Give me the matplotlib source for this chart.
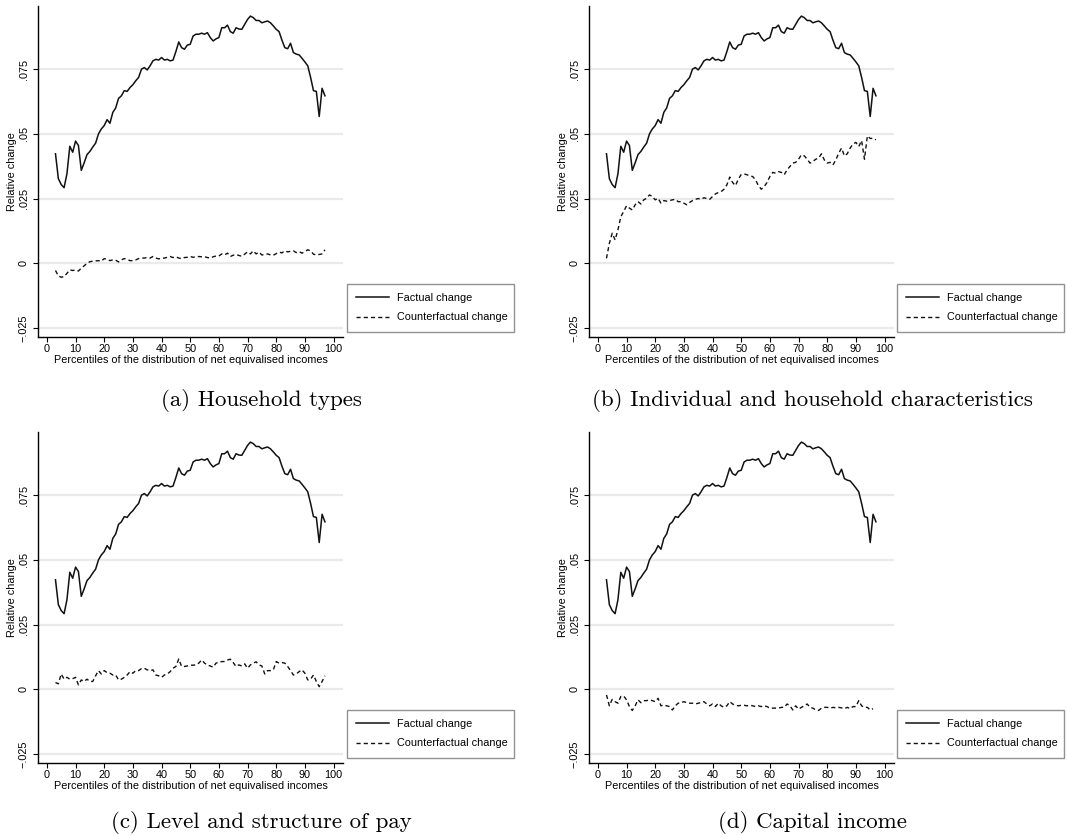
import matplotlib
matplotlib.use("Agg")
import matplotlib.pyplot as plt
import numpy as np

# percentiles of the distribution of net equivalised incomes
pct = list(range(3, 98))

factual = [
    0.0423, 0.0327, 0.0304, 0.0292, 0.0346, 0.0452, 0.0429, 0.0472, 0.0455, 0.0359,
    0.0388, 0.0420, 0.0432, 0.0449, 0.0464, 0.0500, 0.0519, 0.0532, 0.0555, 0.0541,
    0.0583, 0.0600, 0.0637, 0.0647, 0.0667, 0.0664, 0.0679, 0.0690, 0.0705, 0.0718,
    0.0750, 0.0756, 0.0747, 0.0763, 0.0782, 0.0788, 0.0785, 0.0795, 0.0785, 0.0788,
    0.0782, 0.0785, 0.0818, 0.0855, 0.0833, 0.0827, 0.0843, 0.0846, 0.0878, 0.0885,
    0.0885, 0.0889, 0.0885, 0.0891, 0.0872, 0.0859, 0.0867, 0.0872, 0.0910, 0.0910,
    0.0920, 0.0895, 0.0889, 0.0910, 0.0905, 0.0904, 0.0923, 0.0942, 0.0955, 0.0949,
    0.0938, 0.0938, 0.0929, 0.0933, 0.0936, 0.0929, 0.0917, 0.0904, 0.0895, 0.0862,
    0.0833, 0.0829, 0.0850, 0.0814, 0.0808, 0.0805, 0.0792, 0.0778, 0.0763, 0.0718,
    0.0667, 0.0664, 0.0567, 0.0676, 0.0647,
]

cf_household_types = [
    -0.0028, -0.0049, -0.0054, -0.0052, -0.0039, -0.0026, -0.0028, -0.0026, -0.0030, -0.0019,
    -0.0010, 0.0000, 0.0006, 0.0008, 0.0009, 0.0010, 0.0008, 0.0018, 0.0015, 0.0010,
    0.0013, 0.0012, 0.0005, 0.0013, 0.0018, 0.0015, 0.0010, 0.0010, 0.0013, 0.0018,
    0.0020, 0.0020, 0.0022, 0.0020, 0.0026, 0.0020, 0.0017, 0.0019, 0.0020, 0.0023,
    0.0026, 0.0022, 0.0025, 0.0020, 0.0018, 0.0022, 0.0023, 0.0026, 0.0023, 0.0025,
    0.0026, 0.0025, 0.0025, 0.0022, 0.0020, 0.0025, 0.0028, 0.0028, 0.0036, 0.0032,
    0.0039, 0.0026, 0.0031, 0.0034, 0.0030, 0.0027, 0.0035, 0.0044, 0.0036, 0.0048,
    0.0036, 0.0043, 0.0032, 0.0034, 0.0036, 0.0032, 0.0031, 0.0037, 0.0043, 0.0040,
    0.0048, 0.0044, 0.0046, 0.0048, 0.0041, 0.0045, 0.0039, 0.0045, 0.0052, 0.0048,
    0.0035, 0.0032, 0.0034, 0.0036, 0.0052,
]

cf_characteristics = [
    0.0019, 0.0077, 0.0116, 0.0090, 0.0129, 0.0180, 0.0200, 0.0222, 0.0213, 0.0206,
    0.0226, 0.0238, 0.0229, 0.0245, 0.0251, 0.0264, 0.0258, 0.0245, 0.0251, 0.0232,
    0.0242, 0.0240, 0.0242, 0.0245, 0.0247, 0.0238, 0.0238, 0.0232, 0.0226, 0.0235,
    0.0242, 0.0247, 0.0250, 0.0247, 0.0253, 0.0250, 0.0247, 0.0258, 0.0268, 0.0273,
    0.0277, 0.0286, 0.0303, 0.0333, 0.0312, 0.0300, 0.0325, 0.0343, 0.0345, 0.0342,
    0.0338, 0.0335, 0.0322, 0.0300, 0.0286, 0.0296, 0.0312, 0.0335, 0.0351, 0.0348,
    0.0354, 0.0351, 0.0342, 0.0361, 0.0374, 0.0387, 0.0390, 0.0402, 0.0419, 0.0415,
    0.0402, 0.0387, 0.0393, 0.0402, 0.0406, 0.0423, 0.0399, 0.0387, 0.0390, 0.0380,
    0.0399, 0.0425, 0.0445, 0.0415, 0.0423, 0.0445, 0.0461, 0.0467, 0.0451, 0.0474,
    0.0402, 0.0492, 0.0482, 0.0483, 0.0477,
]

cf_pay = [
    0.0026, 0.0021, 0.0059, 0.0039, 0.0046, 0.0039, 0.0041, 0.0046, 0.0017, 0.0036,
    0.0030, 0.0039, 0.0030, 0.0030, 0.0052, 0.0072, 0.0059, 0.0072, 0.0064, 0.0062,
    0.0055, 0.0055, 0.0036, 0.0039, 0.0046, 0.0055, 0.0068, 0.0062, 0.0072, 0.0072,
    0.0080, 0.0081, 0.0075, 0.0072, 0.0075, 0.0055, 0.0052, 0.0046, 0.0055, 0.0059,
    0.0068, 0.0081, 0.0088, 0.0117, 0.0088, 0.0088, 0.0090, 0.0093, 0.0093, 0.0094,
    0.0101, 0.0113, 0.0101, 0.0093, 0.0090, 0.0085, 0.0101, 0.0104, 0.0107, 0.0107,
    0.0113, 0.0116, 0.0103, 0.0088, 0.0094, 0.0090, 0.0098, 0.0081, 0.0094, 0.0101,
    0.0106, 0.0094, 0.0090, 0.0059, 0.0072, 0.0072, 0.0075, 0.0107, 0.0101, 0.0103,
    0.0101, 0.0088, 0.0072, 0.0055, 0.0059, 0.0068, 0.0075, 0.0062, 0.0036, 0.0039,
    0.0055, 0.0030, 0.0010, 0.0030, 0.0052,
]

cf_capital = [
    -0.0022, -0.0064, -0.0039, -0.0048, -0.0054, -0.0028, -0.0026, -0.0041, -0.0067, -0.0082,
    -0.0064, -0.0041, -0.0052, -0.0044, -0.0044, -0.0041, -0.0044, -0.0048, -0.0035, -0.0064,
    -0.0061, -0.0064, -0.0067, -0.0080, -0.0064, -0.0054, -0.0052, -0.0048, -0.0052, -0.0054,
    -0.0054, -0.0057, -0.0054, -0.0052, -0.0048, -0.0057, -0.0064, -0.0057, -0.0067, -0.0054,
    -0.0064, -0.0070, -0.0064, -0.0048, -0.0057, -0.0062, -0.0064, -0.0062, -0.0062, -0.0064,
    -0.0062, -0.0064, -0.0067, -0.0064, -0.0067, -0.0064, -0.0067, -0.0073, -0.0073, -0.0073,
    -0.0073, -0.0070, -0.0070, -0.0057, -0.0064, -0.0080, -0.0064, -0.0077, -0.0070, -0.0064,
    -0.0057, -0.0070, -0.0073, -0.0080, -0.0082, -0.0073, -0.0070, -0.0070, -0.0073, -0.0070,
    -0.0072, -0.0070, -0.0072, -0.0075, -0.0070, -0.0075, -0.0067, -0.0067, -0.0044, -0.0064,
    -0.0070, -0.0070, -0.0080, -0.0075,
]

captions = [
    "(a) Household types",
    "(b) Individual and household characteristics",
    "(c) Level and structure of pay",
    "(d) Capital income",
]
counterfactuals = [cf_household_types, cf_characteristics, cf_pay, cf_capital]

yticks = [-0.025, 0, 0.025, 0.05, 0.075]
ytick_labels = ["\u2212.025", "0", ".025", ".05", ".075"]
xticks = list(range(0, 101, 10))

W, H = 1067, 835
plt.rcParams["font.family"] = ["Liberation Sans", "DejaVu Sans"]
fig = plt.figure(figsize=(W / 100, H / 100), dpi=100)
fig.patch.set_facecolor("white")

# panel boxes in pixels: left, top, right, bottom
boxes = [(38, 6, 343, 337), (589, 6, 894, 337), (38, 432, 343, 763), (589, 432, 894, 763)]
legend_left = [347, 897, 347, 897]
caption_pos = [(261, 401), (812, 401), (261, 823), (812, 823)]

fs = 7.8

for i, (l, t, r, b) in enumerate(boxes):
    ax = fig.add_axes([l / W, 1 - b / H, (r - l) / W, (b - t) / H])
    cf = counterfactuals[i]
    ax.plot(pct, factual, color="#111111", lw=1.1, label="Factual change")
    ax.plot(pct[:len(cf)], cf, color="#111111", lw=1.0, linestyle=(0, (3, 2.2)),
            label="Counterfactual change")
    ax.set_xlim(-3.1, 103.3)
    ax.set_ylim(-0.0285, 0.0994)
    ax.set_yticks(yticks)
    ax.set_yticklabels(ytick_labels, rotation=90, va="center")
    ax.set_xticks(xticks)
    for y in yticks:
        ax.axhline(y, color="#eaeaea", lw=1.6, zorder=0)
    for s in ["top", "right"]:
        ax.spines[s].set_visible(False)
    ax.spines["left"].set_linewidth(1.0)
    ax.spines["bottom"].set_linewidth(1.0)
    ax.tick_params(direction="out", length=3.6, width=0.8, labelsize=fs)
    ax.tick_params(axis="y", pad=3)
    ax.tick_params(axis="x", pad=1.5)
    ax.set_xlabel("Percentiles of the distribution of net equivalised incomes",
                  fontsize=fs, labelpad=0.5)
    ax.set_ylabel("Relative change", fontsize=fs)
    ax.yaxis.set_label_coords(-0.068, 0.5)

    leg_top = b - 53
    ax.legend(loc="upper left", mode="expand",
              bbox_to_anchor=(legend_left[i] / W, 1 - (leg_top + 48) / H, 167 / W, 48 / H),
              bbox_transform=fig.transFigure, fontsize=fs, frameon=True, fancybox=False,
              edgecolor="#777777", handlelength=3.0, borderpad=0.85, labelspacing=0.85,
              handletextpad=0.8, borderaxespad=0)

    cx, cy = caption_pos[i]
    fig.text(cx / W, 1 - cy / H, captions[i], family="cmr10", fontsize=16.5,
             ha="center", va="center")

fig.savefig("out.png", dpi=100)
